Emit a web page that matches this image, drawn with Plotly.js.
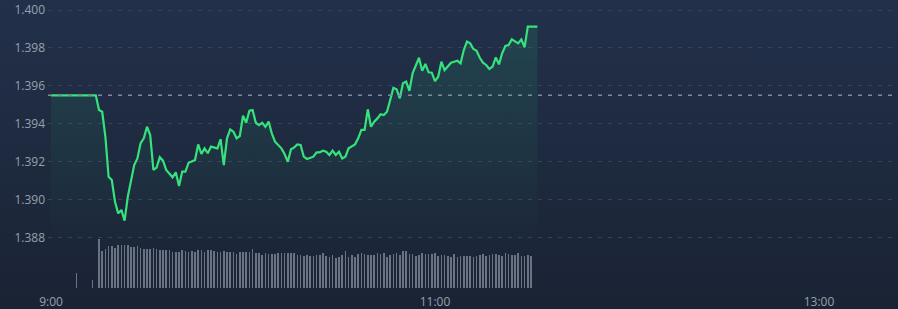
<!DOCTYPE html>
<html>
<head>
<meta charset="utf-8">
<script src="https://cdn.plot.ly/plotly-3.0.1.min.js"></script>
<style>
  html, body { margin: 0; padding: 0; width: 898px; height: 309px; overflow: hidden;
    background: linear-gradient(to bottom, #22304a 0%, #1e2a3f 50%, #1a2334 100%); }
  #chart { width: 898px; height: 309px; }
</style>
</head>
<body>
<div id="chart"></div>
<script>
// Minutes after 9:00 for each price point
const priceMinutes = [0,14,15,16,17,18,19,20,21,22,23,24,26,27,28,29,30,31,32,33,
  34,35,36,37,38,39,40,41,42,43,45,46,47,48,49,50,51,52,53,54,
  55,56,57,58,59,60,61,62,63,64,65,66,67,68,69,70,72,73,74,75,
  76,77,78,79,80,82,83,84,85,86,87,88,89,90,91,92,93,95,96,97,
  98,99,100,101,102,103,104,105,106,107,108,109,110,111,112,113,115,116,117,118,
  119,120,121,122,123,124,125,126,127,128,129,130,131,132,133,134,135,136,137,138,
  139,140,141,142,143,144,145,146,147,148,149,152];
const prices = [1.3955,1.3955,1.39472,1.39463,1.39331,1.39120,1.39103,1.38988,1.38927,1.38945,1.38888,1.39015,1.39182,1.39217,1.39297,1.39323,1.39384,1.39340,1.39156,1.39168,
  1.39223,1.39205,1.39156,1.39135,1.39117,1.39144,1.39071,1.39147,1.39147,1.39194,1.39208,1.39291,1.39240,1.39270,1.39244,1.39279,1.39273,1.39270,1.39318,1.39182,
  1.39323,1.39370,1.39358,1.39323,1.39335,1.39442,1.39405,1.39469,1.39472,1.39405,1.39393,1.39405,1.39384,1.39411,1.39349,1.39305,1.39270,1.39240,1.39199,1.39265,
  1.39275,1.39291,1.39288,1.39226,1.39214,1.39226,1.39249,1.39249,1.39258,1.39252,1.39235,1.39258,1.39235,1.39252,1.39217,1.39226,1.39270,1.39291,1.39323,1.39367,
  1.39367,1.39476,1.39384,1.39411,1.39428,1.39450,1.39446,1.39463,1.39525,1.39590,1.39582,1.39534,1.39613,1.39622,1.39573,1.39666,1.39748,1.39680,1.39715,1.39671,
  1.39669,1.39625,1.39648,1.39727,1.39683,1.39701,1.39722,1.39727,1.39732,1.39719,1.39789,1.39833,1.39824,1.39794,1.39785,1.39748,1.39722,1.39710,1.39689,1.39701,
  1.39750,1.39713,1.39772,1.39810,1.39815,1.39845,1.39836,1.39824,1.39845,1.39803,1.39912,1.39912];

// Volume (minutes after 9:00, traded amount)
const volumeMinutes = [8,13,15,16,17,18,19,20,21,22,23,24,25,26,27,28,29,30,31,32,
  33,34,35,36,37,38,39,40,41,42,43,44,45,46,47,48,49,50,51,52,
  53,54,55,56,57,58,59,60,61,62,63,64,65,66,67,68,69,70,71,72,
  73,74,75,76,77,78,79,80,81,82,83,84,85,86,87,88,89,90,91,92,
  93,94,95,96,97,98,99,100,101,102,103,104,105,106,107,108,109,110,111,112,
  113,114,115,116,117,118,119,120,121,122,123,124,125,126,127,128,129,130,131,132,
  133,134,135,136,137,138,139,140,141,142,143,144,145,146,147,148,149,150];
const volumes = [150,84,493,370,393,417,417,403,427,427,427,427,407,407,417,403,393,393,393,403,
  387,377,377,377,377,357,363,357,383,370,363,370,363,383,383,363,383,383,370,363,
  357,370,363,363,363,343,357,357,363,363,390,353,353,333,353,343,343,343,353,353,
  353,353,353,353,333,333,317,327,323,323,333,333,353,323,310,333,300,310,333,367,
  310,333,310,343,353,343,333,333,333,353,343,353,310,333,343,353,333,367,367,343,
  343,323,333,353,343,343,343,353,323,333,333,323,310,343,310,323,323,323,323,310,
  323,333,343,323,333,343,343,333,323,353,343,333,333,353,323,323,333,323];

const prevClose = 1.3955;
const fillBase = 1.3875;
const priceTicks = [1.388, 1.390, 1.392, 1.394, 1.396, 1.398, 1.400];
const timeTickVals = [0, 120, 240];
const timeTickText = ['9:00', '11:00', '13:00'];

const baseTrace = {
  x: [priceMinutes[0], priceMinutes[priceMinutes.length - 1]],
  y: [fillBase, fillBase],
  type: 'scatter', mode: 'lines',
  line: { width: 0, color: 'rgba(0,0,0,0)' },
  hoverinfo: 'skip', showlegend: false
};
const priceTrace = {
  x: priceMinutes, y: prices,
  type: 'scatter', mode: 'lines',
  line: { color: '#35e27c', width: 2.2 },
  fill: 'tonexty',
  fillgradient: {
    type: 'vertical',
    start: fillBase, stop: 1.3991,
    colorscale: [[0, 'rgba(40,200,120,0.0)'], [1, 'rgba(40,200,120,0.14)']]
  },
  showlegend: false
};
const volTrace = {
  x: volumeMinutes, y: volumes,
  type: 'bar', yaxis: 'y2',
  width: 0.45,
  marker: { color: '#6a7383', line: { width: 0 } },
  showlegend: false
};

const layout = {
  width: 898, height: 309,
  margin: { l: 48, r: 0, t: 0, b: 21 },
  paper_bgcolor: 'rgba(0,0,0,0)',
  plot_bgcolor: 'rgba(0,0,0,0)',
  font: { family: '"Open Sans", "Noto Sans", sans-serif', size: 12, color: '#97a0ad' },
  xaxis: {
    range: [-0.94, 264.7],
    tickvals: timeTickVals, ticktext: timeTickText,
    showgrid: false, zeroline: false, showline: false,
    ticks: 'outside', ticklen: 3, tickcolor: 'rgba(0,0,0,0)',
    fixedrange: true
  },
  yaxis: {
    range: [1.38533, 1.400528],
    tickvals: priceTicks, tickformat: '.3f',
    showgrid: true, gridcolor: '#35425a', gridwidth: 1, griddash: '4px,6px',
    zeroline: false, showline: false, ticks: '', ticklabelstandoff: 2,
    fixedrange: true
  },
  yaxis2: {
    overlaying: 'y', range: [0, 2880], visible: false, showgrid: false, fixedrange: true
  },
  bargap: 0,
  shapes: [{
    type: 'line', xref: 'paper', x0: 0, x1: 1, yref: 'y', y0: prevClose, y1: prevClose,
    line: { color: '#7f8a9c', width: 1.5, dash: '4px,6px' }
  }],
  hovermode: false
};

Plotly.newPlot('chart', [baseTrace, priceTrace, volTrace], layout, { staticPlot: true, displayModeBar: false });
</script>
</body>
</html>
